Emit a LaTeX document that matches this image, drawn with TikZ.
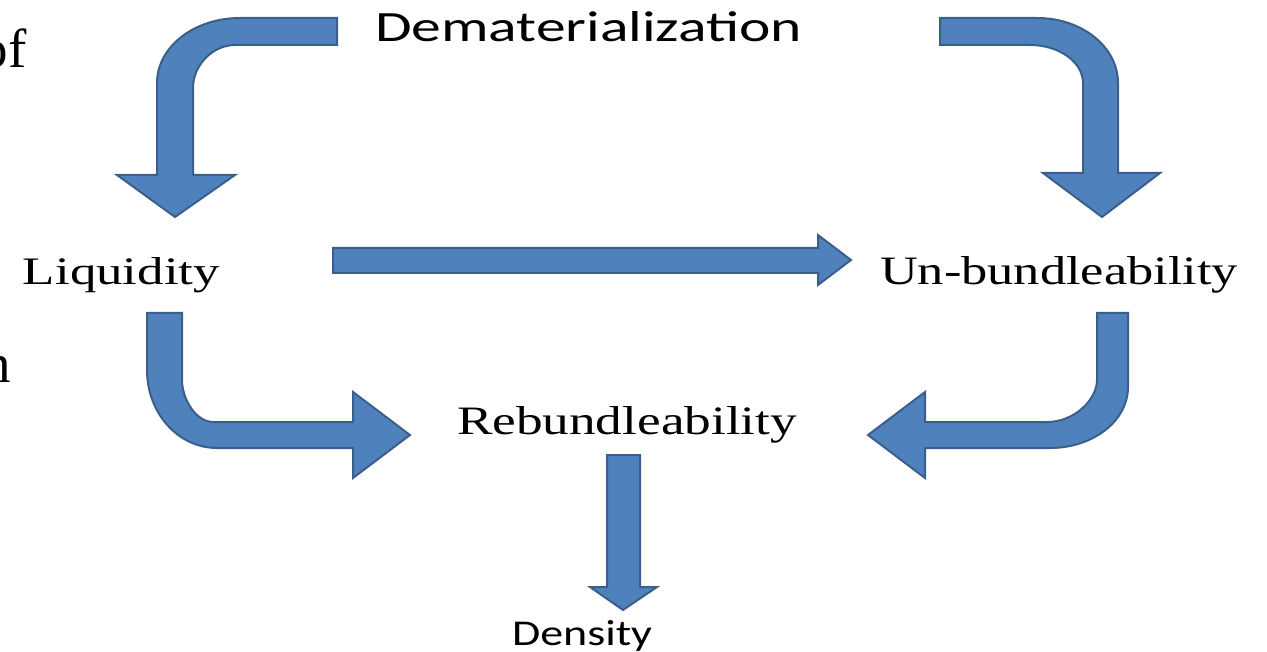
\documentclass[tikz,border=0pt]{standalone}
\usepackage{fontspec}
\setmainfont{Liberation Serif}
\newfontfamily\calib{Carlito}
\definecolor{arrowfill}{HTML}{4F81BD}
\definecolor{arrowline}{HTML}{3A5F8B}
\begin{document}
\begin{tikzpicture}[x=1pt,y=-1pt,
  blockarrow/.style={fill=arrowfill,draw=arrowline,line width=2pt,line join=miter},
  lbl/.style={inner sep=0pt,outer sep=0pt,anchor=base west}]
\useasboundingbox (0,0) rectangle (1267,652);
\clip (0,0) rectangle (1267,652);
% cropped fragments of neighbouring text
\node[inner sep=0pt,anchor=base east] (frag1) at (27,68) {\fontsize{55}{60}\selectfont of};
\node[inner sep=0pt,anchor=base east] (frag2) at (11,383) {\fontsize{55}{60}\selectfont n};
% labels
\node[lbl] (demat) at (375,42) {\resizebox{427pt}{30pt}{\calib Dematerialization}};
\node[lbl] (liq) at (23,285) {\resizebox{197pt}{27pt}{Liquidity}};
\node[lbl] (unb) at (880,285) {\resizebox{358pt}{28pt}{Un-bundleability}};
\node[lbl] (reb) at (457,435) {\resizebox{340pt}{28pt}{Rebundleability}};
\node[lbl] (dens) at (512,645) {\resizebox{140pt}{25pt}{\calib Density}};
% top-left bent arrow
\draw[blockarrow] (337,18) -- (240,18) .. controls (194,18) and (157,47) .. (157,83)
  -- (157,175) -- (117,175) -- (175,217) -- (235,175) -- (193,175) -- (193,88)
  .. controls (193,65) and (213,45) .. (235,45) -- (337,45) -- cycle;
% top-right bent arrow
\draw[blockarrow] (940,18) -- (1037,18) .. controls (1082,18) and (1118,47) .. (1118,83)
  -- (1118,173) -- (1160,173) -- (1102,217) -- (1043,173) -- (1083,173) -- (1083,83)
  .. controls (1083,62) and (1059,45) .. (1030,45) -- (940,45) -- cycle;
% horizontal arrow
\draw[blockarrow] (333,248) -- (818,248) -- (818,235) -- (851,260) -- (818,285)
  -- (818,273) -- (333,273) -- cycle;
% bottom-left bent arrow
\draw[blockarrow] (147,313) -- (147,370) .. controls (147,413) and (178,448) .. (217,448)
  -- (353,448) -- (353,478) -- (410,435) -- (353,392) -- (353,422) -- (213,422)
  .. controls (196,422) and (182,399) .. (182,380) -- (182,313) -- cycle;
% bottom-right bent arrow
\draw[blockarrow] (1128,313) -- (1128,387) .. controls (1128,421) and (1093,448) .. (1050,448)
  -- (925,448) -- (925,478) -- (868,435) -- (925,392) -- (925,422) -- (1047,422)
  .. controls (1075,422) and (1097,399) .. (1097,380) -- (1097,313) -- cycle;
% down arrow
\draw[blockarrow] (607,455) -- (640,455) -- (640,587) -- (657,587) -- (623,610)
  -- (590,587) -- (607,587) -- cycle;
\end{tikzpicture}
\end{document}
